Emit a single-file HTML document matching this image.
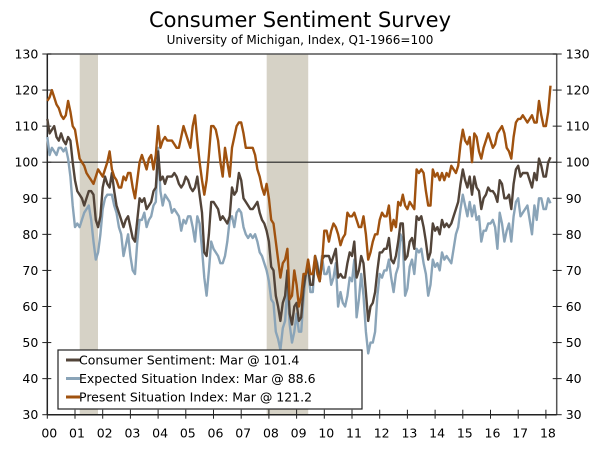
<!DOCTYPE html>
<html><head><meta charset="utf-8"><style>
body{margin:0;background:#fff;width:600px;height:445px;overflow:hidden;font-family:"Liberation Sans","DejaVu Sans",sans-serif}
svg text{font-family:"DejaVu Sans","Liberation Sans",sans-serif}
</style></head><body>
<svg id="chart" width="600" height="445" xmlns="http://www.w3.org/2000/svg">
<text x="300" y="27" text-anchor="middle" font-size="21" fill="#000">Consumer Sentiment Survey</text>
<text x="300" y="44" text-anchor="middle" font-size="12" fill="#000">University of Michigan, Index, Q1-1966=100</text>
<g id="rec"></g><g id="axes"></g><g id="lines"></g><g id="legend"></g>
</svg>
<script>
const years=['00','01','02','03','04','05','06','07','08','09','10','11','12','13','14','15','16','17','18'];
const yTicks=[30,40,50,60,70,80,90,100,110,120,130];
const recessions=[[2001.17,2001.83],[2007.92,2009.42]];
const sentiment=[112,108,109,110,107,106,108,106,105,107,106,100,
95,92,91,90,88,90,92,92,91,84,82,85,
93,96,94,93,97,92,88,86,84,82,84,85,
82,79,78,84,90,89,90,87,88,89,92,93,
103,95,96,94,96,96,96,97,96,94,93,94,
96,95,93,92,93,96,91,86,75,74,80,89,
89,88,87,84,85,84,83,85,93,91,92,97,
95,90,89,88,87,87,88,89,86,84,83,81,
78,71,70,63,60,56,61,63,70,58,55,60,
61,56,57,65,69,71,66,66,74,71,67,73,
74,74,74,72,74,76,68,69,68,68,72,75,
74,78,68,70,74,72,64,56,60,61,64,70,
75,75,76,76,79,73,72,74,78,83,83,73,
74,78,79,76,85,84,85,82,78,73,75,83,
81,82,80,84,82,83,82,83,85,87,89,94,
98,95,93,96,91,96,93,92,87,90,91,93,
92,92,91,89,95,94,90,90,91,87,94,98,
99,96,97,97,97,95,93,97,95,101,99,96,
96,100,101.4];
const expected=[107,102,104,103,102,104,104,103,104,101,96,88,
82,83,82,84,86,87,88,84,78,73,75,80,
87,90,91,91,91,88,86,82,80,74,77,80,
74,70,69,78,84,84,86,82,84,85,88,89,
104,92,88,91,90,89,86,87,86,85,81,84,
83,85,85,82,78,85,83,76,68,63,70,78,
76,75,74,72,72,74,78,84,85,82,86,87,
86,82,80,79,80,79,80,78,75,74,72,70,
67,62,61,53,51,48,54,56,66,55,50,53,
58,53,53,62,69,70,64,64,74,72,67,74,
69,69,71,66,68,72,60,64,61,60,63,68,
67,73,57,62,69,63,53,47,50,50,53,63,
69,68,70,70,73,68,64,69,71,80,78,63,
65,71,73,69,76,75,76,72,69,63,66,73,
71,72,70,75,73,74,73,72,76,80,82,87,
91,88,85,89,85,88,84,85,78,81,81,83,
83,84,82,76,86,83,78,81,83,78,85,89,
90,85,86,87,88,84,80,88,84,90,90,87,
87,90,88.6];
const present=[117,118,120,118,116,115,113,112,113,117,114,110,
109,105,101,100,99,97,96,95,94,96,98,97,
96,98,100,103,98,96,95,93,93,96,95,97,
97,93,90,95,100,102,100,98,101,102,98,102,
110,104,106,107,106,106,106,105,104,104,107,110,
108,106,104,110,113,106,100,95,91,95,102,110,
110,109,106,100,96,104,100,96,104,107,110,111,
111,108,104,104,104,104,102,98,96,93,91,94,
90,84,83,78,73,68,72,73,76,62,63,70,
66,60,63,69,69,73,69,69,74,69,67,72,
81,81,78,81,83,82,80,77,79,80,86,85,
85,86,84,82,82,85,80,73,75,78,80,80,
84,86,85,85,88,81,84,82,89,88,91,88,
87,89,88,87,98,97,98,97,92,88,88,98,
96,97,95,97,95,97,96,99,98,97,99,105,
109,106,105,107,100,108,107,103,101,104,106,108,
106,104,105,108,109,110,108,104,103,101,107,111,
112,112,113,112,111,112,113,111,111,117,113,110,
110,114,121.2];
const legendLabels=['Consumer Sentiment: Mar @ 101.4','Expected Situation Index: Mar @ 88.6','Present Situation Index: Mar @ 121.2'];

const NS='http://www.w3.org/2000/svg';
const X0=47.3,YW=27.7,L=47.3,R=556.7,T=54,B=414.7;
const xs=t=>X0+(t-2000)*YW;
const ys=v=>B-(v-30)*(B-T)/100;
function mk(tag,attrs,parent){const e=document.createElementNS(NS,tag);for(const k in attrs)e.setAttribute(k,attrs[k]);parent.appendChild(e);return e;}
const rec=document.getElementById('rec'),axes=document.getElementById('axes'),lines=document.getElementById('lines'),leg=document.getElementById('legend');
recessions.forEach(r=>{const e=mk('rect',{x:xs(r[0]),y:T,width:xs(r[1])-xs(r[0]),height:B-T,fill:'#d6d2c6'},rec);

});
let e=mk('line',{x1:L,y1:T,x2:R,y2:T,stroke:'#555','stroke-width':1.5},axes);

e=mk('line',{x1:L,y1:T,x2:L,y2:B,stroke:'#222','stroke-width':1.5},axes);

e=mk('line',{x1:R,y1:T,x2:R,y2:B,stroke:'#555','stroke-width':1.5},axes);

e=mk('line',{x1:L,y1:B,x2:R,y2:B,stroke:'#222','stroke-width':1.5},axes);

e=mk('line',{x1:L,y1:ys(100),x2:R,y2:ys(100),stroke:'#222','stroke-width':1.2},axes);

yTicks.forEach(v=>{const y=ys(v);
mk('line',{x1:L-5,y1:y,x2:L+4,y2:y,stroke:'#222'},axes);
mk('line',{x1:R-4,y1:y,x2:R+5,y2:y,stroke:'#222'},axes);
let t=mk('text',{x:L-9,y:y+4.5,'text-anchor':'end','font-size':12.5,fill:'#000'},axes);t.textContent=v;

t=mk('text',{x:R+9,y:y+4.5,'font-size':12.5,fill:'#000'},axes);t.textContent=v;
});
years.forEach((yr,i)=>{const x=xs(2000+i);
mk('line',{x1:x,y1:B-5,x2:x,y2:B+4,stroke:'#222'},axes);
const t=mk('text',{x:x+2,y:B+23,'text-anchor':'middle','font-size':12.5,fill:'#000'},axes);t.textContent=yr;
});
const series=[[expected,'#8aa4b8','expected-situation-line'],[sentiment,'#524439','consumer-sentiment-line'],[present,'#a0520f','present-situation-line']];
series.forEach(s=>{const d=s[0].map((v,i)=>(i?'L':'M')+xs(2000+i/12).toFixed(1)+' '+ys(v).toFixed(1)).join(' ');
const p=mk('path',{d:d,fill:'none',stroke:s[1],'stroke-width':2.4,'stroke-linejoin':'round'},lines);
});
const box=mk('rect',{x:58,y:350,width:304,height:59,fill:'#fff',stroke:'#222','stroke-width':1.2},leg);

const lc=['#524439','#8aa4b8','#a0520f'];
legendLabels.forEach((lab,i)=>{const y=360+i*18.5;
mk('line',{x1:66,y1:y,x2:80,y2:y,stroke:lc[i],'stroke-width':3},leg);
const t=mk('text',{x:79,y:y+4.5,'font-size':12.5,fill:'#000'},leg);t.textContent=lab;
});
</script>
</body></html>
